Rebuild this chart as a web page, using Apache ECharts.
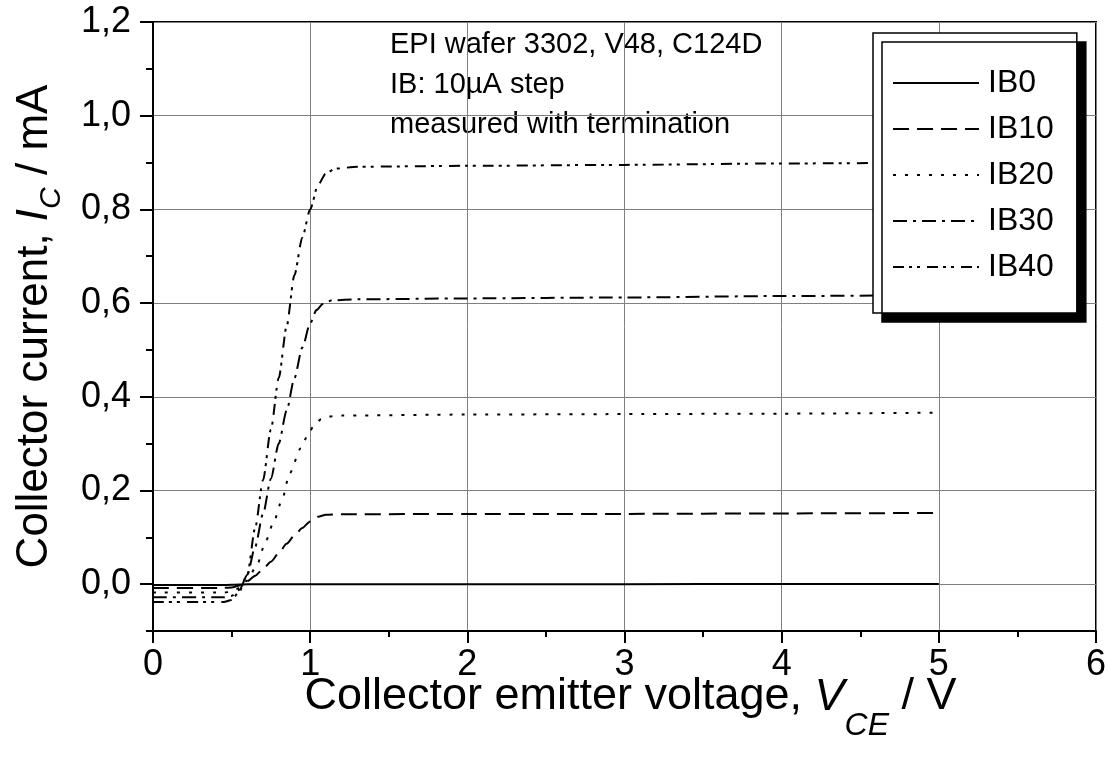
<!DOCTYPE html>
<html>
<head>
<meta charset="utf-8">
<title>Collector characteristics</title>
<script src="https://cdn.jsdelivr.net/npm/echarts@6/dist/echarts.min.js"></script>
<style>
  html, body { margin: 0; padding: 0; background: #fff; }
  #chart { width: 1109px; height: 761px; }
</style>
</head>
<body>
<div id="chart"></div>
<script>
// Output characteristics, [V_CE (V), I_C (mA)] per base-current step
const seriesNames = ['IB0', 'IB10', 'IB20', 'IB30', 'IB40'];

const ib0 = [
  [0, -0.002], [0.45, -0.002], [0.55, -0.001], [0.6, 0], [1.0, 0],
  [2, 0], [3, 0], [4, 0.0005], [5, 0.0005]
];
const ib10 = [
  [0, -0.008], [0.45, -0.008], [0.5, -0.007], [0.55, -0.003], [0.6, 0.006],
  [0.65, 0.018], [0.7, 0.032], [0.75, 0.048], [0.8, 0.066], [0.85, 0.086],
  [0.9, 0.104], [0.95, 0.12], [1.0, 0.134], [1.05, 0.144], [1.1, 0.148],
  [1.2, 0.149], [2, 0.150], [3, 0.150], [4, 0.151], [5, 0.152]
];
const ib20 = [
  [0, -0.018], [0.45, -0.018], [0.5, -0.016], [0.55, -0.008], [0.6, 0.008],
  [0.66, 0.04], [0.72, 0.094], [0.77, 0.135], [0.82, 0.179], [0.87, 0.237],
  [0.94, 0.29], [0.99, 0.322], [1.03, 0.342], [1.07, 0.352], [1.12, 0.358],
  [1.2, 0.360], [2, 0.362], [3, 0.363], [4, 0.364], [5, 0.366]
];
const ib30 = [
  [0, -0.028], [0.45, -0.028], [0.5, -0.025], [0.55, -0.012], [0.6, 0.02],
  [0.65, 0.08], [0.7, 0.15], [0.75, 0.225], [0.8, 0.30], [0.85, 0.37],
  [0.9, 0.44], [0.95, 0.505], [1.0, 0.557], [1.04, 0.585], [1.08, 0.598],
  [1.14, 0.606], [1.3, 0.608], [2, 0.610], [3, 0.612], [4, 0.615], [5, 0.617]
];
const ib40 = [
  [0, -0.038], [0.45, -0.038], [0.5, -0.034], [0.55, -0.015], [0.6, 0.02],
  [0.65, 0.12], [0.7, 0.222], [0.75, 0.33], [0.8, 0.44], [0.85, 0.55],
  [0.9, 0.66], [0.95, 0.74], [1.0, 0.80], [1.05, 0.852], [1.1, 0.877],
  [1.16, 0.887], [1.3, 0.891], [2, 0.893], [3, 0.895], [4, 0.898], [5, 0.900]
];
const seriesData = [ib0, ib10, ib20, ib30, ib40];

// dash patterns: solid, dash, dot, dash-dot, dash-dot-dot
const dashTypes = ['solid', [16, 8], [3, 9], [14, 6, 3, 6], [11, 5, 3, 5, 3, 7]];

const xTickValues = [0, 1, 2, 3, 4, 5, 6];
const yMajorTicks = [0, 0.2, 0.4, 0.6, 0.8, 1.0, 1.2];
const yMinorTicks = [-0.1, 0.1, 0.3, 0.5, 0.7, 0.9, 1.1];

const noteLines = ['EPI wafer 3302, V48, C124D', 'IB: 10µA step', 'measured with termination'];
const noteTops = [30, 70, 110];

const FONT = '"Liberation Sans", Arial, Helvetica, sans-serif';
const fmtComma = v => v.toFixed(1).replace('.', ',');

const chart = echarts.init(document.getElementById('chart'), null, { renderer: 'canvas' });

const yAxisBase = {
  type: 'value',
  min: -0.1,
  max: 1.2,
  splitNumber: 6,
  position: 'left',
  axisLine: { show: true, onZero: false, lineStyle: { color: '#000', width: 2 } }
};

chart.setOption({
  backgroundColor: '#fff',
  animation: false,
  textStyle: { fontFamily: FONT, color: '#000' },
  grid: {
    left: 153, right: 13, top: 22, bottom: 130,
    show: true, borderColor: '#000', borderWidth: 2,
    outerBoundsMode: 'none'
  },
  xAxis: {
    type: 'value',
    min: 0, max: 6, interval: 1,
    axisLine: { show: true, onZero: false, lineStyle: { color: '#000', width: 2 } },
    axisTick: { show: true, inside: false, length: 12, lineStyle: { color: '#000', width: 2 } },
    minorTick: { show: true, splitNumber: 2, length: 6, lineStyle: { color: '#000', width: 2 } },
    axisLabel: {
      fontSize: 36, color: '#000', margin: 16, fontFamily: FONT,
      customValues: xTickValues,
      formatter: v => String(v)
    },
    splitLine: { show: true, lineStyle: { color: '#808080', width: 1 } },
    name: 'Collector emitter voltage, {i|V}{s|CE} / V',
    nameLocation: 'middle',
    nameGap: 21,
    nameMoveOverlap: false,
    nameTextStyle: {
      fontSize: 45, color: '#000', fontFamily: FONT, lineHeight: 90,
      padding: [0, 0, 0, 12],
      rich: {
        i: { fontSize: 45, fontStyle: 'italic', lineHeight: 90, fontFamily: FONT },
        s: { fontSize: 32, fontStyle: 'italic', lineHeight: 32, verticalAlign: 'bottom', fontFamily: FONT }
      }
    }
  },
  yAxis: [
    Object.assign({}, yAxisBase, {
      axisTick: { show: true, inside: false, length: 13, customValues: yMajorTicks,
        lineStyle: { color: '#000', width: 2 } },
      axisLabel: {
        fontSize: 36, color: '#000', margin: 22, fontFamily: FONT,
        customValues: yMajorTicks,
        formatter: fmtComma
      },
      splitLine: { show: true, lineStyle: { color: '#808080', width: 1 } },
      name: 'Collector current, {i|I}{s|C} / mA',
      nameLocation: 'middle',
      nameGap: 86,
      nameMoveOverlap: false,
      nameTextStyle: {
        fontSize: 44, color: '#000', fontFamily: FONT, lineHeight: 64,
        rich: {
          i: { fontSize: 44, fontStyle: 'italic', lineHeight: 64, fontFamily: FONT },
          s: { fontSize: 30, fontStyle: 'italic', lineHeight: 30, verticalAlign: 'bottom', fontFamily: FONT }
        }
      }
    }),
    Object.assign({}, yAxisBase, {
      axisTick: { show: true, inside: false, length: 7, customValues: yMinorTicks,
        lineStyle: { color: '#000', width: 2 } },
      axisLabel: { show: false },
      splitLine: { show: false }
    })
  ],
  legend: {
    orient: 'vertical',
    left: 873, top: 33,
    padding: [32, 23, 28, 19],
    itemWidth: 86, itemHeight: 14, itemGap: 10,
    backgroundColor: '#fff',
    borderColor: '#000', borderWidth: 1.5,
    shadowColor: '#000', shadowBlur: 0, shadowOffsetX: 9, shadowOffsetY: 9,
    itemStyle: { opacity: 0 },
    textStyle: { fontSize: 32, color: '#000', fontFamily: FONT, lineHeight: 36, padding: [0, 0, 0, 4] },
    data: seriesNames
  },
  graphic: noteLines.map((t, i) => ({
    type: 'text',
    left: 390, top: noteTops[i],
    style: { text: t, font: '29px ' + FONT, fill: '#000' }
  })),
  series: seriesNames.map((name, i) => ({
    name,
    type: 'line',
    data: seriesData[i],
    yAxisIndex: 0,
    symbol: 'none',
    showSymbol: false,
    smooth: 0.25,
    smoothMonotone: 'x',
    clip: true,
    lineStyle: { color: '#000', width: 2, type: dashTypes[i] },
    itemStyle: { color: '#000' },
    emphasis: { disabled: true }
  }))
});
</script>
</body>
</html>
